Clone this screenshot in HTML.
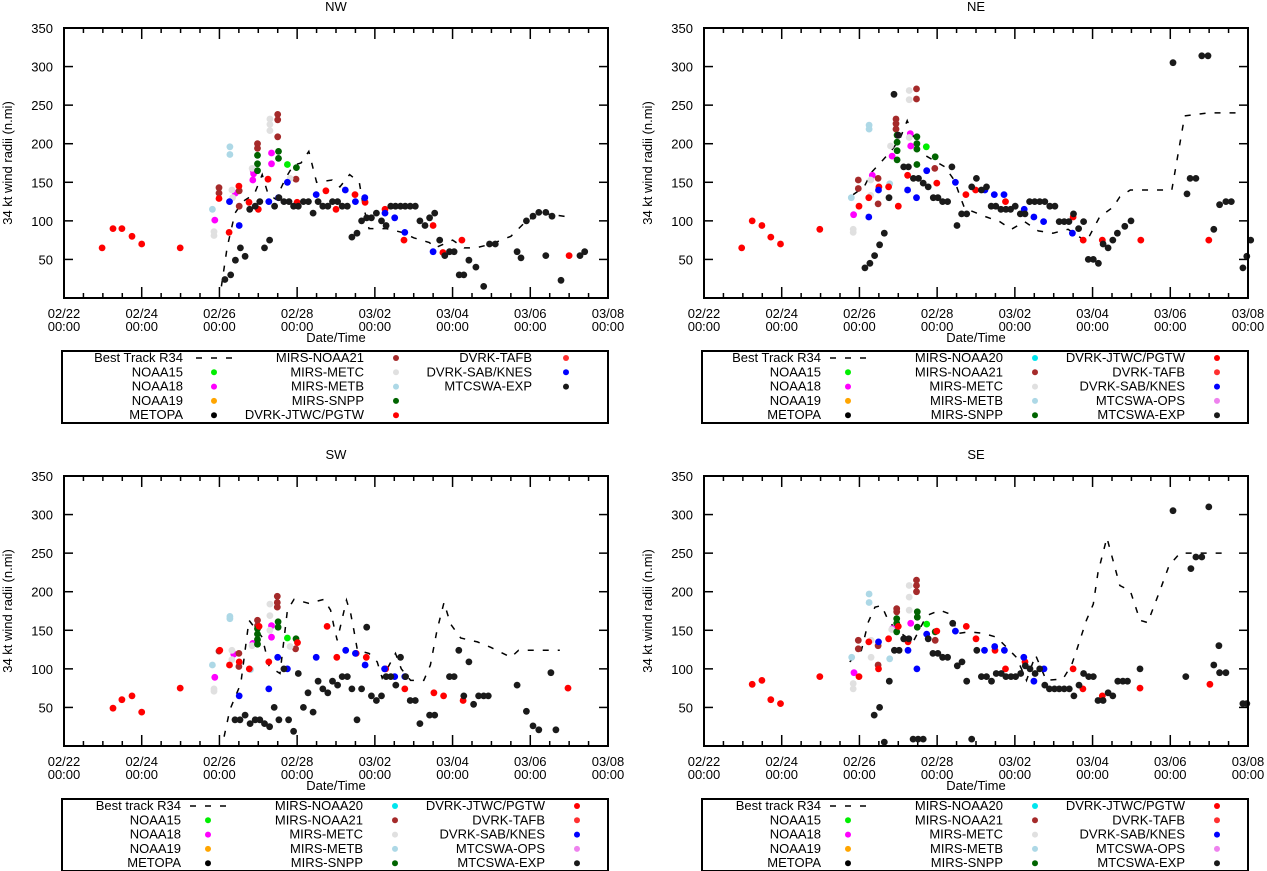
<!DOCTYPE html>
<html><head><meta charset="utf-8"><style>
html,body{margin:0;padding:0;background:#fff;}
svg{display:block;font-family:"Liberation Sans",sans-serif;}
</style></head><body>
<svg id="chart" width="1267" height="871" viewBox="0 0 1267 871" xmlns="http://www.w3.org/2000/svg"></svg>
<script>
// ---------- tick labels ----------
const xTickLabels = ["02/22","02/24","02/26","02/28","03/02","03/04","03/06","03/08"];
const xTickDays = [0,2,4,6,8,10,12,14];
const yTickValues = [50,100,150,200,250,300,350];

// ---------- NW data: [day since 02/22 00Z, radius n.mi] ----------
const nwBest = [[4.05,15],[4.2,66],[4.4,110],[4.6,125],[4.9,135],[5.1,160],[5.25,135],[5.45,128],[5.7,155],[5.9,172],[6.1,175],[6.3,190],[6.5,150],[6.9,153],[7.1,144],[7.35,160],[7.6,150],[7.7,120],[7.85,90],[8.3,90],[8.7,85],[9.0,78],[9.4,72],[9.55,65],[10.0,75],[10.3,65],[10.6,65],[11.0,70],[11.5,80],[11.9,100],[12.3,110],[13.0,105]];
const nwNOAA15 = [[5.75,173]];
const nwNOAA18 = [[3.88,101],[4.86,153],[4.88,161],[4.87,165],[5.34,188],[5.34,174],[4.41,136]];
const nwNOAA21 = [[3.99,143],[3.99,136],[4.51,139],[4.51,119],[4.98,200],[4.98,194],[5.5,238],[5.5,231],[5.5,209],[5.97,154]];
const nwMETC = [[3.86,81],[3.86,86],[4.32,140],[4.34,130],[4.84,168],[5.3,232],[5.3,225],[5.3,217],[5.82,155]];
const nwMETB = [[3.82,115],[4.27,196],[4.27,186]];
const nwSNPP = [[4.98,185],[4.98,174],[4.98,165],[5.52,190],[5.52,181],[5.98,169]];
const nwJTWC = [[0.98,65],[1.26,90],[1.49,90],[1.75,80],[2.0,70],[2.99,65],[3.99,129],[4.5,145],[4.25,85],[5.0,115],[5.25,154],[4.76,124],[6.0,124],[6.74,139],[7.0,115],[7.49,134],[7.75,124],[8.26,115],[9.5,94],[8.75,75],[9.75,59],[10.24,75],[13.0,55]];
const nwSAB = [[4.26,125],[4.51,94],[5.27,125],[5.75,150],[5.52,130],[6.49,134],[7.24,140],[7.5,125],[7.74,130],[8.26,110],[8.51,104],[8.77,85],[9.5,60]];
const nwEXP = [[4.14,24],[4.29,30],[4.41,49],[4.54,65],[4.66,54],[5.16,65],[5.29,75],[4.78,115],[4.92,119],[5.04,125],[5.42,119],[5.53,130],[5.66,125],[5.79,125],[5.91,119],[6.03,119],[6.16,125],[6.29,125],[6.41,110],[6.54,125],[6.66,119],[6.79,119],[6.91,125],[7.04,125],[7.16,119],[7.29,119],[7.41,79],[7.54,84],[7.66,100],[7.79,104],[7.91,104],[8.04,110],[8.17,100],[8.29,94],[8.41,119],[8.53,119],[8.66,119],[8.78,119],[8.91,119],[9.04,119],[9.16,100],[9.29,94],[9.41,104],[9.54,110],[9.67,75],[9.8,55],[9.92,60],[10.04,60],[10.17,30],[10.29,30],[10.42,49],[10.6,40],[10.8,15],[10.95,70],[11.1,70],[11.66,60],[11.76,52],[11.9,100],[12.07,106],[12.22,111],[12.4,111],[12.56,106],[12.4,55],[12.79,23],[13.28,55],[13.4,60]];

// ---------- NE data ----------
const neBest = [[3.84,134],[4.12,144],[4.31,163],[4.57,177],[4.82,191],[5.04,206],[5.23,230],[5.55,189],[6.2,170],[6.45,152],[6.58,133],[6.71,116],[6.92,112],[7.27,105],[7.61,99],[7.91,89],[8.25,99],[8.6,87],[8.98,84],[9.37,89],[9.84,73],[10.18,105],[10.53,118],[10.7,131],[10.97,140],[11.73,140],[12.04,140],[12.37,236],[12.97,240],[13.77,240]];
const neNOAA15 = [[5.72,196]];
const neNOAA18 = [[3.85,108],[4.33,159],[4.84,184],[5.31,213],[5.32,197]];
const neNOAA21 = [[3.97,153],[3.97,142],[4.48,155],[4.48,122],[4.94,232],[4.94,226],[4.94,219],[5.47,271],[5.47,258],[5.94,168]];
const neMETC = [[3.84,85],[3.84,89],[4.29,153],[4.29,133],[4.8,197],[5.28,269],[5.28,257],[5.28,208]];
const neMETB = [[3.79,130],[4.25,224],[4.25,219],[4.78,148]];
const neSNPP = [[4.97,211],[4.97,202],[4.97,191],[4.97,179],[5.48,209],[5.48,200],[5.48,193],[5.48,173],[5.95,183]];
const neJTWC = [[0.97,65],[1.24,100],[1.49,94],[1.72,79],[1.97,70],[2.98,89],[3.99,119],[4.24,130],[4.5,144],[4.75,144],[5.0,119],[5.24,159],[5.99,149],[6.74,134],[6.99,140],[7.76,125],[9.5,105],[9.76,75],[10.25,75],[11.24,75],[12.99,75]];
const neSAB = [[4.49,140],[4.24,105],[5.24,140],[5.47,130],[5.73,165],[6.47,150],[7.23,140],[7.47,134],[7.72,134],[8.24,115],[8.49,105],[8.74,99],[9.48,84]];
const neEXP = [[4.89,264],[4.14,39],[4.27,45],[4.39,55],[4.52,69],[4.64,84],[4.76,130],[5.0,211],[5.14,170],[5.26,170],[5.39,155],[5.52,155],[5.64,149],[5.77,144],[5.9,130],[6.02,130],[6.14,125],[6.27,125],[6.38,170],[6.51,94],[6.63,109],[6.76,109],[6.89,144],[7.01,155],[7.14,140],[7.27,144],[7.39,119],[7.51,119],[7.64,115],[7.77,115],[7.89,115],[8.01,119],[8.14,109],[8.26,109],[8.38,125],[8.51,125],[8.64,125],[8.77,125],[8.9,119],[9.03,119],[9.14,99],[9.27,99],[9.39,99],[9.51,109],[9.64,90],[9.77,99],[9.89,50],[10.02,50],[10.15,45],[10.27,70],[10.4,65],[10.52,75],[10.64,84],[10.83,93],[10.99,100],[12.07,305],[12.51,155],[12.66,155],[12.81,314],[12.97,314],[12.43,135],[13.12,89],[13.27,121],[13.43,125],[13.57,125],[13.87,39],[13.97,54],[14.07,75]];

// ---------- SW data ----------
const swBest = [[4.12,12],[4.27,47],[4.55,81],[4.76,163],[5.1,141],[5.28,103],[5.56,94],[5.75,176],[5.92,190],[6.3,185],[6.69,190],[6.86,176],[6.95,154],[7.03,137],[7.16,165],[7.27,189],[7.38,171],[7.46,150],[7.55,124],[7.85,120],[8.06,109],[8.19,88],[8.53,120],[8.68,100],[8.92,85],[9.26,85],[9.43,105],[9.6,150],[9.78,186],[9.95,158],[10.21,140],[10.64,135],[10.98,128],[11.5,115],[11.7,124],[12.76,124]];
const swNOAA15 = [[5.75,140]];
const swNOAA18 = [[3.88,89],[4.37,119],[4.86,133],[5.34,156],[5.34,141]];
const swNOAA21 = [[3.99,123],[4.5,120],[4.5,103],[4.98,163],[4.98,156],[5.49,194],[5.49,186],[5.49,180],[5.96,126]];
const swMETC = [[3.86,74],[3.86,71],[4.32,124],[4.32,112],[4.84,130],[5.3,184],[5.3,169],[5.3,150],[5.82,129]];
const swMETB = [[3.82,105],[4.27,168],[4.27,165],[4.8,99]];
const swSNPP = [[4.98,152],[4.98,145],[4.98,138],[4.98,132],[5.51,161],[5.51,154],[5.97,139]];
const swJTWC = [[1.26,49],[1.49,60],[1.75,65],[2.0,44],[2.99,75],[4.01,124],[4.26,105],[4.51,109],[4.77,100],[5.02,155],[5.27,109],[6.01,134],[6.77,155],[7.02,115],[7.52,120],[7.78,115],[8.28,100],[8.77,74],[9.52,69],[9.77,65],[10.27,59],[12.97,75]];
const swSAB = [[4.51,65],[5.27,74],[5.5,115],[5.75,100],[6.49,115],[7.25,124],[7.5,120],[7.75,105],[8.25,100],[8.51,90],[8.77,90]];
const swEXP = [[4.4,34],[4.53,34],[4.66,40],[4.79,29],[4.92,34],[5.04,34],[5.16,29],[5.29,25],[5.41,50],[5.53,34],[5.66,100],[5.78,34],[5.91,19],[6.03,94],[6.16,50],[6.28,69],[6.41,44],[6.54,84],[6.66,74],[6.79,69],[6.91,84],[7.04,79],[7.16,90],[7.29,90],[7.41,74],[7.54,34],[7.66,74],[7.79,154],[7.91,65],[8.04,59],[8.17,65],[8.29,90],[8.41,90],[8.54,79],[8.66,115],[8.79,90],[8.91,59],[9.04,59],[9.16,29],[9.41,40],[9.54,40],[9.92,90],[10.04,90],[10.16,124],[10.29,65],[10.42,109],[10.54,54],[10.67,65],[10.8,65],[10.92,65],[11.66,79],[11.9,45],[12.07,26],[12.22,21],[12.53,95],[12.66,21]];

// ---------- SE data ----------
const seBest = [[3.75,109],[4.05,124],[4.23,161],[4.4,180],[4.57,182],[4.74,163],[4.96,150],[5.38,135],[5.73,169],[6.07,176],[6.33,171],[6.54,146],[6.84,148],[7.19,146],[7.53,141],[8.04,115],[8.3,85],[8.53,118],[8.81,85],[9.24,87],[9.46,105],[9.59,124],[9.84,163],[10.02,184],[10.14,225],[10.37,270],[10.7,208],[10.97,201],[11.22,163],[11.42,160],[11.73,201],[11.97,234],[12.25,250],[13.53,250]];
const seNOAA15 = [[5.73,158]];
const seNOAA18 = [[3.86,95],[4.85,152],[5.32,159]];
const seNOAA21 = [[3.97,137],[3.97,126],[4.48,130],[4.48,105],[4.96,178],[4.96,174],[5.47,215],[5.47,208],[5.47,200],[5.95,137]];
const seMETC = [[3.84,81],[3.84,74],[4.3,115],[4.3,137],[4.83,151],[5.28,208],[5.28,193],[5.28,176]];
const seMETB = [[3.8,115],[4.25,197],[4.25,186],[4.78,113]];
const seSNPP = [[4.96,165],[4.96,159],[4.96,148],[5.49,174],[5.49,167],[5.49,154],[5.95,148]];
const seJTWC = [[1.24,80],[1.49,85],[1.72,60],[1.97,55],[2.98,90],[3.99,90],[4.24,135],[4.49,100],[4.75,139],[5.0,155],[5.25,135],[5.99,149],[6.75,155],[7.0,139],[7.49,124],[7.76,100],[8.26,109],[9.5,100],[9.75,74],[10.25,65],[11.22,75],[13.02,80]];
const seSAB = [[4.49,135],[5.25,124],[5.48,100],[5.73,145],[6.47,149],[7.22,124],[7.48,129],[7.73,124],[8.23,115],[8.49,84],[8.75,100]];
const seEXP = [[4.38,40],[4.52,50],[4.64,5],[4.77,84],[4.9,124],[5.02,124],[5.14,139],[5.27,139],[5.38,9],[5.51,9],[5.64,9],[5.77,139],[5.89,120],[6.02,120],[6.14,115],[6.27,115],[6.4,159],[6.52,104],[6.64,109],[6.76,84],[6.89,9],[7.02,124],[7.14,90],[7.27,90],[7.4,84],[7.52,94],[7.65,94],[7.77,90],[7.9,90],[8.02,90],[8.15,94],[8.27,104],[8.39,100],[8.52,94],[8.64,100],[8.77,79],[8.89,74],[9.02,74],[9.14,74],[9.27,74],[9.4,74],[9.52,65],[9.65,79],[9.77,94],[9.9,90],[10.02,90],[10.14,59],[10.27,59],[10.4,69],[10.52,65],[10.65,84],[10.78,84],[10.9,84],[11.22,100],[12.07,305],[12.4,90],[12.53,230],[12.66,245],[12.81,245],[12.99,310],[13.12,105],[13.27,95],[13.43,95],[13.25,130],[13.87,55],[13.97,55]];

const C = {
  best:"#000", NOAA15:"#00ee00", NOAA18:"#ff00ff", NOAA19:"#ffa500", METOPA:"#000",
  NOAA20:"#00e5ee", NOAA21:"#a52a2a", METC:"#e0e0e0", METB:"#add8e6", SNPP:"#006400",
  JTWC:"#ff0000", TAFB:"#ff3030", SAB:"#0000ff", OPS:"#ee82ee", EXP:"#1a1a1a"
};

const NS = "http://www.w3.org/2000/svg";
const svg = document.getElementById("chart");
function mk(tag, attrs, parent){
  const e = document.createElementNS(NS, tag);
  for (const k in attrs) e.setAttribute(k, attrs[k]);
  (parent||svg).appendChild(e);
  return e;
}
function txt(parent, x, y, s, anchor, size){
  const t = mk("text", {x:x, y:y, "text-anchor":anchor||"middle", "font-size":size||13, fill:"#000"}, parent);
  t.textContent = s;
  return t;
}

function drawPanel(key, ox, oy, title, best, series, legend, lx){
  const g = mk("g", {});
  
  
  const L = ox+64, R = ox+608, T = oy+28, B = oy+298;
  const xs = d => L + d*(R-L)/14;
  const ys = v => B - v*(B-T)/350;

  const tt = txt(g, (L+R)/2, oy+11, title, "middle", 13);
  
  

  const yt = txt(g, 0, 0, "34 kt wind radii (n.mi)", "middle", 13);
  yt.setAttribute("transform", "translate(" + (ox+12) + "," + ((T+B)/2) + ") rotate(-90)");
  
  

  yTickValues.forEach(v => {
    const y = ys(v);
    mk("line", {x1:L, y1:y, x2:L+9, y2:y, stroke:"#000", "stroke-width":1.5}, g);
    mk("line", {x1:R, y1:y, x2:R-9, y2:y, stroke:"#000", "stroke-width":1.5}, g);
    const lab = txt(g, L-11, y+5, String(v), "end", 13);
    
    
  });
  for (let i=0;i<=28;i++){
    const d = i*0.5, x = xs(d);
    const major = (i%4===0);
    const len = major ? 11 : 5;
    mk("line", {x1:x, y1:B, x2:x, y2:B-len, stroke:"#000", "stroke-width":1.5}, g);
    mk("line", {x1:x, y1:T, x2:x, y2:T+len, stroke:"#000", "stroke-width":1.5}, g);
  }
  xTickDays.forEach((d,i) => {
    const lab = txt(g, xs(d), B+20, xTickLabels[i], "middle", 13);
    
    
    const lab2 = txt(g, xs(d), B+33, "00:00", "middle", 13);
    
    
  });
  const xt = txt(g, (L+R)/2, B+44, "Date/Time", "middle", 13);
  
  

  const clipId = key + "-clip";
  const cp = mk("clipPath", {id:clipId}, g);
  mk("rect", {x:L, y:T, width:R-L, height:B-T}, cp);
  const pl = mk("polyline", {points: best.map(p => xs(p[0]).toFixed(1)+","+ys(p[1]).toFixed(1)).join(" "),
    fill:"none", stroke:"#000", "stroke-width":1.5, "stroke-dasharray":"6,9", "clip-path":"url(#"+clipId+")"}, g);
  
  

  series.forEach(s => {
    const sg = mk("g", {}, g);
    
    
    s[1].forEach(p => {
      const c = mk("circle", {cx:xs(p[0]).toFixed(1), cy:ys(p[1]).toFixed(1), r:3.4, fill:C[s[0]]}, sg);
      
      
    });
  });

  const fr = mk("rect", {x:L, y:T, width:R-L, height:B-T, fill:"none", stroke:"#000", "stroke-width":2}, g);
  
  

  const lg = mk("g", {}, g);
  
  
  mk("rect", {x:ox+62, y:oy+351, width:546, height:72, fill:"none", stroke:"#000", "stroke-width":2}, lg);
  legend.forEach((col, ci) => {
    col.forEach((ent, ri) => {
      const y = oy + 362 + ri*14.3;
      const ex = ox + lx[ci][0], mx = ox + lx[ci][1];
      const et = txt(lg, ex, y, ent[0], "end", 13);
      
      
      if (ent[1] === "best") {
        const dl = mk("line", {x1:mx-18, y1:y-4, x2:mx+18, y2:y-4, stroke:"#000", "stroke-width":1.5, "stroke-dasharray":"6,9"}, lg);
        
        
      } else {
        const dc = mk("circle", {cx:mx, cy:y-4, r:3, fill:C[ent[1]]}, lg);
        
        
      }
    });
  });
}

const legendNW = [
  [["Best Track R34","best"],["NOAA15","NOAA15"],["NOAA18","NOAA18"],["NOAA19","NOAA19"],["METOPA","METOPA"]],
  [["MIRS-NOAA21","NOAA21"],["MIRS-METC","METC"],["MIRS-METB","METB"],["MIRS-SNPP","SNPP"],["DVRK-JTWC/PGTW","JTWC"]],
  [["DVRK-TAFB","TAFB"],["DVRK-SAB/KNES","SAB"],["MTCSWA-EXP","EXP"]]
];
function legendFull(bestLabel){
  return [
    [[bestLabel,"best"],["NOAA15","NOAA15"],["NOAA18","NOAA18"],["NOAA19","NOAA19"],["METOPA","METOPA"]],
    [["MIRS-NOAA20","NOAA20"],["MIRS-NOAA21","NOAA21"],["MIRS-METC","METC"],["MIRS-METB","METB"],["MIRS-SNPP","SNPP"]],
    [["DVRK-JTWC/PGTW","JTWC"],["DVRK-TAFB","TAFB"],["DVRK-SAB/KNES","SAB"],["MTCSWA-OPS","OPS"],["MTCSWA-EXP","EXP"]]
  ];
}
const lxNW = [[183,214],[364,396],[532,566]];
const lxFull = [[181,208],[363,395],[545,577]];

drawPanel("nw", 0, 0, "NW", nwBest,
  [["NOAA15",nwNOAA15],["NOAA18",nwNOAA18],["NOAA21",nwNOAA21],["METC",nwMETC],["METB",nwMETB],["SNPP",nwSNPP],["JTWC",nwJTWC],["SAB",nwSAB],["EXP",nwEXP]],
  legendNW, lxNW);
drawPanel("ne", 640, 0, "NE", neBest,
  [["NOAA15",neNOAA15],["NOAA18",neNOAA18],["NOAA21",neNOAA21],["METC",neMETC],["METB",neMETB],["SNPP",neSNPP],["JTWC",neJTWC],["SAB",neSAB],["EXP",neEXP]],
  legendFull("Best Track R34"), lxFull);
drawPanel("sw", 0, 448, "SW", swBest,
  [["NOAA15",swNOAA15],["NOAA18",swNOAA18],["NOAA21",swNOAA21],["METC",swMETC],["METB",swMETB],["SNPP",swSNPP],["JTWC",swJTWC],["SAB",swSAB],["EXP",swEXP]],
  legendFull("Best track R34"), lxFull);
drawPanel("se", 640, 448, "SE", seBest,
  [["NOAA15",seNOAA15],["NOAA18",seNOAA18],["NOAA21",seNOAA21],["METC",seMETC],["METB",seMETB],["SNPP",seSNPP],["JTWC",seJTWC],["SAB",seSAB],["EXP",seEXP]],
  legendFull("Best track R34"), lxFull);
</script>
</body></html>
